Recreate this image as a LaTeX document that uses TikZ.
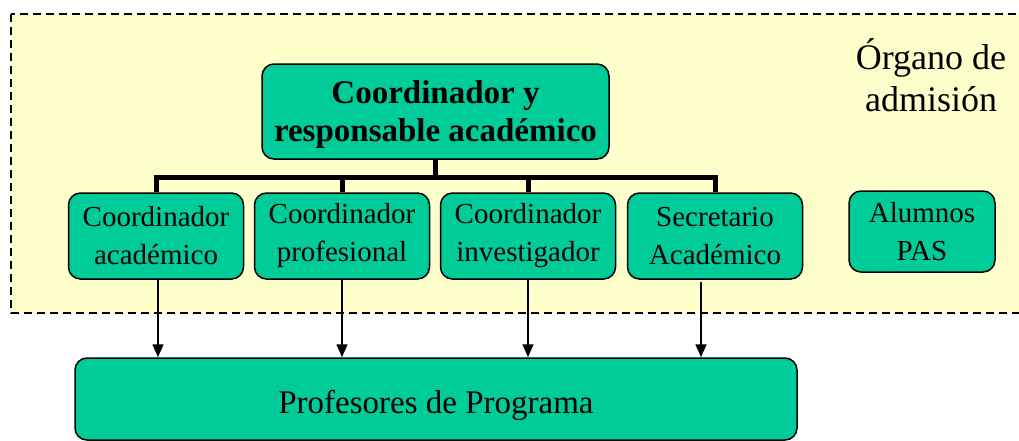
\documentclass[tikz,border=0pt]{standalone}
\usepackage{fontspec}
\setmainfont{Liberation Serif}
\usetikzlibrary{arrows.meta}
\definecolor{boxgreen}{HTML}{00CC99}
\definecolor{paleyellow}{HTML}{FFFFCC}
\tikzset{
  rbox/.style={draw=black, line width=1.5pt, fill=boxgreen, rounded corners=12pt, inner sep=0pt, align=center},
  boxtext/.style={inner sep=0pt, align=center},
  bus/.style={line width=5pt},
  arr/.style={line width=1.5pt, -{Triangle[length=13pt,width=11pt]}},
}
\begin{document}
\begin{tikzpicture}[x=1pt,y=-1pt]
\useasboundingbox (0,0) rectangle (1019,440);
% organ area
\draw[fill=paleyellow, dash pattern=on 8pt off 5pt, line width=1.8pt] (11,14) rectangle (1040,313);
\node[font=\fontsize{36}{42}\selectfont, align=center, anchor=center] (organo) at (931,75) {Órgano de\\admisión};
% top node
\node[rbox, minimum width=347pt, minimum height=95pt] (top) at (435.5,111.5) {};
\node[boxtext, font=\fontsize{33}{38}\selectfont\bfseries] (toptext) at ([yshift=-3pt]top.center) {Coordinador y\\responsable académico};
% second row
\node[rbox, minimum width=175pt, minimum height=86pt, font=\fontsize{29}{38}\selectfont] (ca) at (156,236) {Coordinador\\académico};
\node[rbox, minimum width=175pt, minimum height=86pt, font=\fontsize{29}{38}\selectfont] (cp) at (342,236) {Coordinador\\profesional};
\node[rbox, minimum width=175pt, minimum height=86pt, font=\fontsize{29}{38}\selectfont] (ci) at (528,236) {Coordinador\\investigador};
\node[rbox, minimum width=175pt, minimum height=86pt, font=\fontsize{29}{38}\selectfont] (sa) at (715,236) {Secretario\\Académico};
\node[rbox, minimum width=146pt, minimum height=81pt, font=\fontsize{29}{38}\selectfont] (al) at (922,231.5) {Alumnos\\PAS};
% bottom
\node[rbox, minimum width=722pt, minimum height=82pt] (prof) at (436,399) {};
\node[boxtext, font=\fontsize{33}{38}\selectfont] (proftext) at ([yshift=-6pt]prof.center) {Profesores de Programa};
% bus
\coordinate (busL) at (ca.north |- 0,177);
\coordinate (busR) at (sa.north |- 0,177);
\draw[bus] (top.south) -- (top.south |- busL);
\draw[bus, line cap=rect] (busL) -- (busR);
\draw[bus] (busL) -- (ca.north);
\draw[bus] (cp.north |- busL) -- (cp.north);
\draw[bus] (ci.north |- busL) -- (ci.north);
\draw[bus] (busR) -- (sa.north);
% arrows
\draw[arr] ([xshift=2pt]ca.south) -- ([xshift=2pt]ca.south |- prof.north);
\draw[arr] (cp.south) -- (cp.south |- prof.north);
\draw[arr] (ci.south) -- (ci.south |- prof.north);
\coordinate (saStart) at (701,282);
\draw[arr] (saStart) -- (saStart |- prof.north);
\end{tikzpicture}
\end{document}
